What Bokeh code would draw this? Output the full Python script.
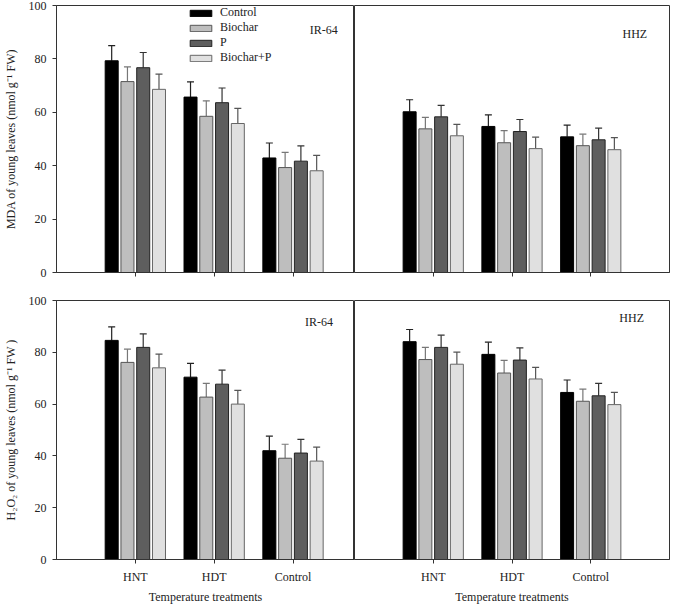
import numpy as np
from bokeh.plotting import figure
from bokeh.models import (ColumnDataSource, Range1d, FixedTicker, Whisker, TeeHead,
                          Label, Legend, LegendItem)
from bokeh.layouts import column, row
from bokeh.embed import file_html
from bokeh.resources import INLINE

# ---------------- data ----------------
categories = ["HNT", "HDT", "Control"]
series = ["Control", "Biochar", "P", "Biochar+P"]
y_ticks = [0, 20, 40, 60, 80, 100]

# MDA, IR-64
mda_ir64_control = [79.3, 65.7, 42.9]
mda_ir64_biochar = [71.5, 58.5, 39.3]
mda_ir64_p = [76.7, 63.6, 41.7]
mda_ir64_biochar_p = [68.6, 55.8, 38.1]
mda_ir64_err_control = [5.7, 5.7, 5.6]
mda_ir64_err_biochar = [5.5, 5.8, 5.7]
mda_ir64_err_p = [5.7, 5.5, 5.7]
mda_ir64_err_biochar_p = [5.7, 5.7, 5.8]

# MDA, HHZ
mda_hhz_control = [60.2, 54.7, 50.8]
mda_hhz_biochar = [53.8, 48.6, 47.5]
mda_hhz_p = [58.3, 52.8, 49.7]
mda_hhz_biochar_p = [51.2, 46.4, 46.0]
mda_hhz_err_control = [4.5, 4.3, 4.4]
mda_hhz_err_biochar = [4.3, 4.5, 4.3]
mda_hhz_err_p = [4.3, 4.5, 4.4]
mda_hhz_err_biochar_p = [4.3, 4.3, 4.5]

# H2O2, IR-64
h2o2_ir64_control = [84.6, 70.4, 42.0]
h2o2_ir64_biochar = [76.1, 62.7, 39.1]
h2o2_ir64_p = [81.9, 67.7, 41.1]
h2o2_ir64_biochar_p = [74.0, 60.0, 38.0]
h2o2_ir64_err_control = [5.2, 5.3, 5.6]
h2o2_ir64_err_biochar = [5.1, 5.3, 5.4]
h2o2_ir64_err_p = [5.2, 5.4, 5.3]
h2o2_ir64_err_biochar_p = [5.3, 5.3, 5.4]

# H2O2, HHZ
h2o2_hhz_control = [84.1, 79.2, 64.5]
h2o2_hhz_biochar = [77.2, 72.0, 61.1]
h2o2_hhz_p = [81.9, 77.0, 63.2]
h2o2_hhz_biochar_p = [75.4, 69.7, 59.8]
h2o2_hhz_err_control = [4.7, 4.7, 4.8]
h2o2_hhz_err_biochar = [4.7, 4.9, 4.7]
h2o2_hhz_err_p = [4.7, 4.7, 4.8]
h2o2_hhz_err_biochar_p = [4.7, 4.5, 4.7]

# ---------------- style ----------------
FONT = "Liberation Serif"
fills = ["#000000", "#bebebe", "#5e5e5e", "#e0e0e0"]
outlines = ["#000000", "#555555", "#222222", "#666666"]
err_colors = ["#222222", "#777777", "#333333", "#555555"]
offsets = [-0.3, -0.1, 0.1, 0.3]
BAR_W = 0.165


def make_panel(means, errs, x_end, fw, fh, border_left, border_right, border_top,
               border_bottom, show_ylabels, show_xlabels, ylabel, tag, tag_xy):
    p = figure(frame_width=fw, frame_height=fh, output_backend="svg",
               toolbar_location=None, x_range=Range1d(0, x_end), y_range=Range1d(0, 100),
               min_border_left=border_left, min_border_right=border_right,
               min_border_top=border_top, min_border_bottom=border_bottom)
    p.grid.visible = False
    p.outline_line_color = "#333333"
    p.outline_line_width = 1
    p.background_fill_color = "white"
    p.border_fill_color = "white"
    base = np.arange(1, len(categories) + 1)
    renderers = []
    for i, (m, e) in enumerate(zip(means, errs)):
        xs = base + offsets[i]
        top = np.array(m)
        src = ColumnDataSource(dict(x=xs, top=top, upper=top + np.array(e)))
        r = p.vbar(x="x", top="top", width=BAR_W, bottom=0, source=src,
                   fill_color=fills[i], line_color=outlines[i], line_width=1)
        renderers.append(r)
        w = Whisker(source=src, base="x", lower="top", upper="upper",
                    line_color=err_colors[i], line_width=1.2,
                    lower_head=None,
                    upper_head=TeeHead(size=7, line_color=err_colors[i], line_width=1.2))
        p.add_layout(w)

    # x axis
    p.xaxis.ticker = FixedTicker(ticks=list(base))
    p.xaxis.major_tick_in = 0
    p.xaxis.major_tick_out = 4
    p.xaxis.minor_tick_line_color = None
    p.xaxis.axis_line_color = "#333333"
    p.xaxis.major_tick_line_color = "#333333"
    p.xaxis.major_label_text_font = FONT
    p.xaxis.major_label_text_color = "#222222"
    p.xaxis.major_label_text_font_size = "12px"
    if show_xlabels:
        p.xaxis.major_label_overrides = {int(b): c for b, c in zip(base, categories)}
        p.xaxis.major_label_standoff = 6
        p.xaxis.axis_label = "Temperature treatments"
        p.xaxis.axis_label_text_font = FONT
        p.xaxis.axis_label_text_font_style = "normal"
        p.xaxis.axis_label_text_font_size = "12px"
        p.xaxis.axis_label_standoff = 3
        p.xaxis.axis_label_text_color = "#222222"
    else:
        p.xaxis.major_label_overrides = {int(b): "" for b in base}
        p.xaxis.major_label_standoff = 0

    # y axis
    if show_ylabels:
        p.yaxis.ticker = FixedTicker(ticks=y_ticks)
        p.yaxis.major_tick_in = 0
        p.yaxis.major_tick_out = 4
        p.yaxis.minor_tick_line_color = None
        p.yaxis.axis_line_color = "#333333"
        p.yaxis.major_tick_line_color = "#333333"
        p.yaxis.major_label_text_font = FONT
        p.yaxis.major_label_text_font_size = "12px"
        p.yaxis.major_label_text_color = "#222222"
        p.yaxis.major_label_standoff = 6
        p.yaxis.axis_label = ylabel
        p.yaxis.axis_label_text_font = FONT
        p.yaxis.axis_label_text_font_style = "normal"
        p.yaxis.axis_label_text_font_size = "12px"
        p.yaxis.axis_label_text_color = "#222222"
        p.yaxis.axis_label_standoff = 8
    else:
        p.yaxis.visible = False

    p.add_layout(Label(x=tag_xy[0], y=tag_xy[1], text=tag, text_font=FONT,
                       text_font_size="12px", text_color="#222222",
                       text_align="center", text_baseline="middle"))
    return p, renderers


LEFT_END = 3.78
RIGHT_END = 4.0

mda_y = "MDA of young leaves (nmol g\u207b\u00b9 FW)"
h2o2_y = "H\u2082O\u2082 of young leaves (nmol g\u207b\u00b9 FW )"

TOP_H = 267
BOT_H = 259
LEFT_W = 298
RIGHT_W = 315

p1, rs = make_panel(
    [mda_ir64_control, mda_ir64_biochar, mda_ir64_p, mda_ir64_biochar_p],
    [mda_ir64_err_control, mda_ir64_err_biochar, mda_ir64_err_p, mda_ir64_err_biochar_p],
    LEFT_END, LEFT_W, TOP_H, 55, 0, 5, 14, True, False, mda_y, "IR-64", (3.39, 91))
p2, _ = make_panel(
    [mda_hhz_control, mda_hhz_biochar, mda_hhz_p, mda_hhz_biochar_p],
    [mda_hhz_err_control, mda_hhz_err_biochar, mda_hhz_err_p, mda_hhz_err_biochar_p],
    RIGHT_END, RIGHT_W, TOP_H, 0, 1, 5, 14, False, False, "", "HHZ", (3.56, 89.5))
p3, _ = make_panel(
    [h2o2_ir64_control, h2o2_ir64_biochar, h2o2_ir64_p, h2o2_ir64_biochar_p],
    [h2o2_ir64_err_control, h2o2_ir64_err_biochar, h2o2_ir64_err_p, h2o2_ir64_err_biochar_p],
    LEFT_END, LEFT_W, BOT_H, 55, 0, 14, 41, True, True, h2o2_y, "IR-64", (3.33, 91.8))
p4, _ = make_panel(
    [h2o2_hhz_control, h2o2_hhz_biochar, h2o2_hhz_p, h2o2_hhz_biochar_p],
    [h2o2_hhz_err_control, h2o2_hhz_err_biochar, h2o2_hhz_err_p, h2o2_hhz_err_biochar_p],
    RIGHT_END, RIGHT_W, BOT_H, 0, 1, 14, 41, False, True, "", "HHZ", (3.52, 93.3))

legend = Legend(items=[LegendItem(label=s, renderers=[r]) for s, r in zip(series, rs)],
                location=(129, TOP_H - 62), glyph_width=27, glyph_height=8,
                label_height=11, label_text_font=FONT, label_text_font_size="12px",
                label_text_color="#222222", spacing=0, padding=2, margin=0,
                border_line_alpha=0, background_fill_alpha=0, label_standoff=6)
p1.add_layout(legend)

layout = column(row(p1, p2), row(p3, p4))
open("out.html", "w").write(file_html(layout, INLINE))
